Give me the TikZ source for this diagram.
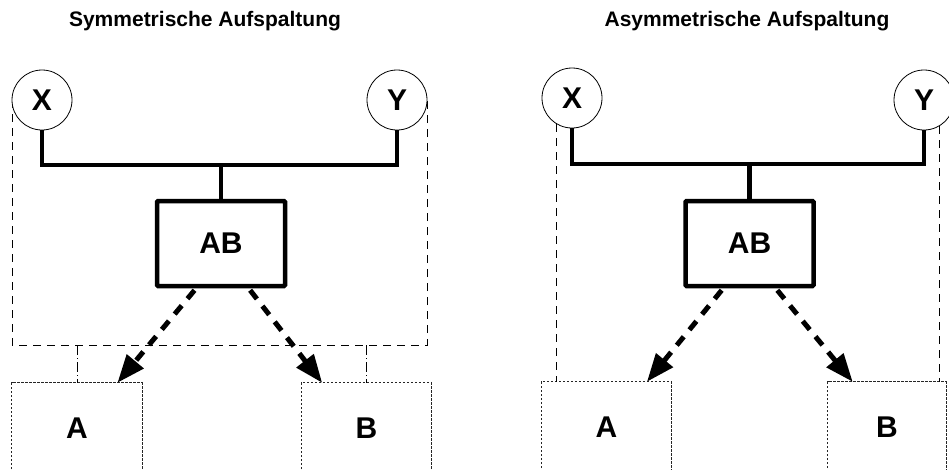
\documentclass[tikz,border=0pt]{standalone}
\usepackage{fontspec}
\setmainfont{Liberation Sans}
\usetikzlibrary{arrows.meta,calc}
\begin{document}
\begin{tikzpicture}[x=1pt,y=-1pt,
  circ/.style={circle,draw,line width=0.8pt,fill=white,minimum size=60pt,inner sep=0pt,font=\fontsize{30}{30}\selectfont\bfseries},
  abbox/.style={draw,line width=4.5pt,rounded corners=1pt,minimum width=128pt,minimum height=85pt,inner sep=0pt,font=\fontsize{30}{30}\selectfont\bfseries},
  tgt/.style={minimum width=130pt,minimum height=90pt,inner sep=0pt,font=\fontsize{30}{30}\selectfont\bfseries},
  tgtline/.style={line width=0.8pt,dash pattern=on 2.5pt off 1.5pt,black!85},
  bar/.style={line width=4.5pt},
  outline/.style={line width=0.8pt,dash pattern=on 8pt off 6pt},
  link/.style={line width=0.8pt,dash pattern=on 10pt off 3pt on 1pt off 3pt},
  flow/.style={line width=5pt,dash pattern=on 11pt off 9pt,-{Triangle[length=28pt,width=21pt]}},
  ttl/.style={font=\fontsize{21}{21}\selectfont\bfseries}]
\useasboundingbox (0,0) rectangle (949,469);
% ---------- left panel ----------
\node[ttl] (T1) at (205,21) {Symmetrische Aufspaltung};
\node[abbox] (AB1) at (221,243.5) {AB};
\node[tgt] (A1) at (77,428) {A};
\node[tgt] (B1) at (366.5,428) {B};
\draw[tgtline] (A1.south west) -- (A1.north west) -- (A1.north east) -- (A1.south east);
\draw[tgtline] (B1.south west) -- (B1.north west) -- (B1.north east) -- (B1.south east);
\coordinate (L1) at (12,345);
\coordinate (R1) at (427,345);
\draw[outline] (12,100) -- (L1) -- (R1) -- (427,100);
\draw[link] (A1.north |- L1) -- (A1.north);
\draw[link] (B1.north |- R1) -- (B1.north);
\node[circ] (X1) at (42,100) {X};
\node[circ] (Y1) at (397,100) {Y};
\coordinate (J1) at (221,165);
\draw[bar] (X1.south) -- (X1.south |- J1) -- (Y1.south |- J1) -- (Y1.south);
\draw[bar] (J1) -- (AB1.north);
\draw[flow] ($(AB1.south west)!0.3!(AB1.south east)+(0,2)$) -- ($(A1.north west)!0.81!(A1.north east)$);
\draw[flow] ($(AB1.south west)!0.72!(AB1.south east)+(0,2)$) -- ($(B1.north west)!0.16!(B1.north east)$);
% ---------- right panel ----------
\node[ttl] (T2) at (747,21) {Asymmetrische Aufspaltung};
\node[abbox] (AB2) at (749.5,243.5) {AB};
\node[tgt] (A2) at (606.5,427) {A};
\node[tgt,minimum width=118pt] (B2) at (887,427) {B};
\draw[tgtline] (A2.south west) -- (A2.north west) -- (A2.north east) -- (A2.south east);
\draw[tgtline] (B2.south west) -- (B2.north west) -- (B2.north east) -- (B2.south east);
\node[circ] (X2) at (572,98) {X};
\node[circ] (Y2) at (924,100) {Y};
\draw[outline] (X2.239) -- (X2.239 |- A2.north);
\draw[outline] (Y2.300) -- (Y2.300 |- B2.north);
\coordinate (J2) at (749.5,164);
\draw[bar] (X2.south) -- (X2.south |- J2) -- (Y2.south |- J2) -- (Y2.south);
\draw[bar] (J2) -- (AB2.north);
\draw[flow] ($(AB2.south west)!0.29!(AB2.south east)+(0,2)$) -- ($(A2.north west)!0.81!(A2.north east)$);
\draw[flow] ($(AB2.south west)!0.71!(AB2.south east)+(0,2)$) -- ($(B2.north west)!0.21!(B2.north east)$);
\end{tikzpicture}
\end{document}
